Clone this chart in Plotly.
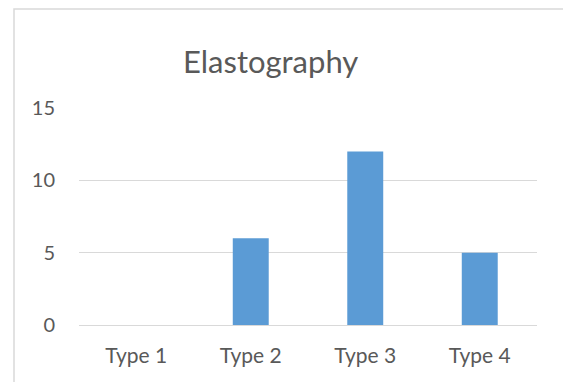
import plotly.graph_objects as go

categories = ["Type 1", "Type 2", "Type 3", "Type 4"]
values = [0, 6, 12, 5]
y_ticks = [0, 5, 10, 15]
title_text = "Elastography"

W, H = 563, 382
L, R, T, B = 79, 537, 108, 325  # plot area in pixels

def px_x(p):
    return (p - L) / (R - L)

def px_y(p):
    return (B - p) / (B - T)

fig = go.Figure(
    go.Bar(
        x=categories,
        y=values,
        marker=dict(color="#5B9BD5", line=dict(width=0)),
    )
)

fig.update_layout(
    width=W,
    height=H,
    margin=dict(l=L, r=W - R, t=T, b=H - B, pad=0),
    paper_bgcolor="white",
    plot_bgcolor="white",
    font=dict(family="Lato", color="#595959", size=20),
    bargap=0.686,
    showlegend=False,
    annotations=[
        dict(
            text=title_text,
            xref="paper", yref="paper",
            x=px_x(270), y=px_y(61),
            xanchor="center", yanchor="middle",
            showarrow=False,
            font=dict(family="Lato", size=31, color="#595959"),
        )
    ],
    shapes=[
        dict(
            type="rect", xref="paper", yref="paper",
            x0=px_x(14), x1=px_x(575), y0=px_y(395), y1=px_y(9),
            line=dict(color="#D9D9D9", width=1.5),
            fillcolor="rgba(0,0,0,0)", layer="below",
        )
    ],
)

fig.update_xaxes(
    showgrid=False,
    showline=False,
    zeroline=False,
    ticks="",
    ticklabelstandoff=16,
    tickfont=dict(size=21, color="#595959"),
)
fig.update_yaxes(
    range=[0, 15],
    tickvals=y_ticks,
    showgrid=True,
    gridcolor="#D9D9D9",
    gridwidth=1.2,
    zeroline=True,
    zerolinecolor="#D9D9D9",
    zerolinewidth=1.2,
    showline=False,
    ticks="",
    ticklabelstandoff=23,
    tickfont=dict(size=20, color="#595959"),
)

fig.write_html(
    "out.html",
    config={"displayModeBar": False},
    post_script="document.body.style.margin='0';document.body.style.overflow='hidden';",
)
